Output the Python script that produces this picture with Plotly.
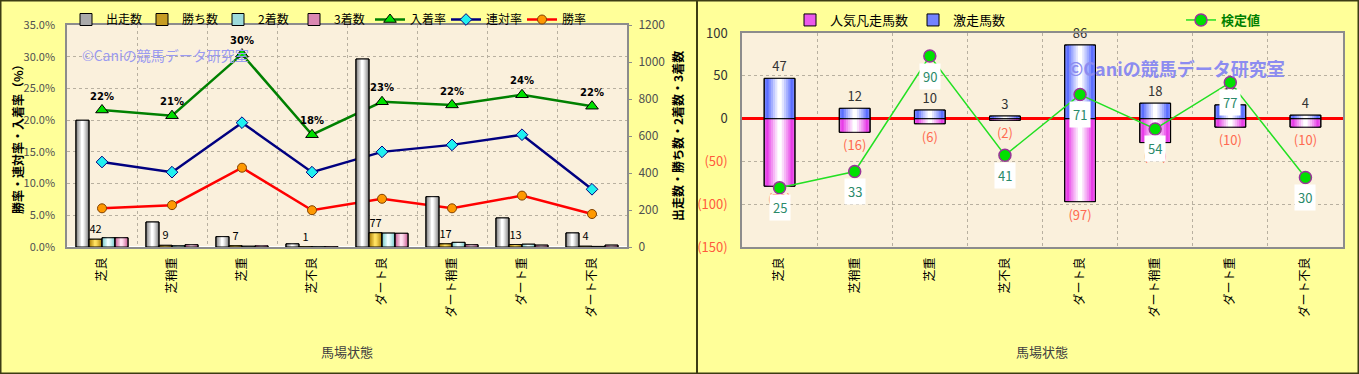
import plotly.graph_objects as go

# ---------------- data ----------------
categories = ["芝良", "芝稍重", "芝重", "芝不良", "ダート良", "ダート稍重", "ダート重", "ダート不良"]
runs = [685, 135, 56, 17, 1016, 272, 157, 76]          # 出走数
wins = [42, 9, 7, 1, 77, 17, 13, 4]                    # 勝ち数
seconds = [50, 7, 4, 1, 75, 25, 15, 3]                 # 2着数
thirds = [50, 12, 6, 1, 74, 12, 10, 10]                # 3着数
place_rate = [0.216, 0.207, 0.304, 0.177, 0.229, 0.224, 0.240, 0.222]   # 入着率
quinella_rate = [0.134, 0.118, 0.196, 0.118, 0.150, 0.161, 0.177, 0.091] # 連対率
win_rate = [0.061, 0.066, 0.125, 0.058, 0.076, 0.061, 0.081, 0.052]     # 勝率

gekiso = [47, 12, 10, 3, 86, 18, 16, 4]            # 激走馬数
bonso = [-79, -16, -6, -2, -97, -28, -10, -10]     # 人気凡走馬数
kentei = [25, 33, 90, 41, 71, 54, 77, 30]          # 検定値

right_ticks = [-150, -100, -50, 0, 50, 100]

W, H = 1359, 374
FONT = "Noto Sans CJK JP"


def px_x(p):
    return p / W


def px_y(p):
    return 1 - p / H


def mix(c1, c2, t):
    a = [int(c1[i:i + 2], 16) for i in (1, 3, 5)]
    b = [int(c2[i:i + 2], 16) for i in (1, 3, 5)]
    return "#" + "".join(f"{round(a[k] + (b[k] - a[k]) * t):02x}" for k in range(3))


fig = go.Figure()


def grad_bar(x, y, xa, ya, center, width, edge, middle, name, legend, text=None,
             textfont=None, layers=7):
    for i in range(layers):
        t = i / (layers - 1)
        c = mix(edge, middle, t ** 0.8)
        w = width * (layers - i) / layers
        fig.add_trace(go.Bar(
            x=x, y=y, xaxis=xa, yaxis=ya, width=w, offset=center - w / 2,
            marker=dict(color=c if i else mix(edge, middle, 0.35),
                        line=dict(width=1 if i == 0 else 0, color="black")),
            name=name, legend=legend, showlegend=(i == 0), hoverinfo="skip"))
    fig.add_trace(go.Bar(
        x=x, y=y, xaxis=xa, yaxis=ya, width=width, offset=center - width / 2,
        marker=dict(color="rgba(0,0,0,0)", line=dict(width=1, color="black")),
        showlegend=False, name=name, text=text, textposition="outside" if text else None,
        textfont=textfont, cliponaxis=False, hoverinfo="skip"))


# ---------- left chart ----------
bw = 0.186
grad_bar(categories, runs, "x", "y2", -1.5 * bw, bw, "#7c7c7c", "#ffffff", "出走数", "legend")
grad_bar(categories, wins, "x", "y2", -0.5 * bw, bw, "#a87800", "#ffe060", "勝ち数", "legend",
         text=[str(v) for v in wins], textfont=dict(size=11, color="black", family=FONT))
grad_bar(categories, seconds, "x", "y2", 0.5 * bw, bw, "#70c8c8", "#f0ffff", "2着数", "legend")
grad_bar(categories, thirds, "x", "y2", 1.5 * bw, bw, "#c85890", "#ffe0f0", "3着数", "legend")

fig.add_trace(go.Scatter(
    x=categories, y=place_rate, xaxis="x", yaxis="y", name="入着率", legend="legend",
    mode="lines+markers+text", line=dict(color="#008000", width=2.5),
    marker=dict(symbol="triangle-up", size=11, color="#00e000", line=dict(color="black", width=1)),
    texttemplate="%{y:.0%}", textposition="top center",
    textfont=dict(size=10, color="black", family="DejaVu Sans", weight="bold"), cliponaxis=False))
fig.add_trace(go.Scatter(
    x=categories, y=quinella_rate, xaxis="x", yaxis="y", name="連対率", legend="legend",
    mode="lines+markers", line=dict(color="#000080", width=2.5),
    marker=dict(symbol="diamond", size=9, color="#20f0f0", line=dict(color="#000080", width=1))))
fig.add_trace(go.Scatter(
    x=categories, y=win_rate, xaxis="x", yaxis="y", name="勝率", legend="legend",
    mode="lines+markers", line=dict(color="#ff0000", width=2.5),
    marker=dict(symbol="circle", size=9, color="#ff9900", line=dict(color="#804000", width=1))))

# ---------- right chart ----------
rbw = 0.41
grad_bar(categories, bonso, "x2", "y3", 0, rbw, "#e000e0", "#ffffff", "人気凡走馬数", "legend2",
         text=[f"({-v})" for v in bonso], textfont=dict(size=13, color="#ff6a50", family=FONT))
grad_bar(categories, gekiso, "x2", "y3", 0, rbw, "#2840ff", "#ffffff", "激走馬数", "legend2",
         text=[str(v) for v in gekiso], textfont=dict(size=13, color="#333333", family=FONT))

fig.add_trace(go.Scatter(
    x=categories, y=kentei, xaxis="x2", yaxis="y4", name="検定値", legend="legend3",
    mode="lines+markers", line=dict(color="#22e022", width=1.5),
    marker=dict(symbol="circle", size=12, color="#00e000", line=dict(color="#993399", width=1.5)),
    cliponaxis=False))

for c, v in zip(categories, kentei):
    fig.add_annotation(x=c, y=v, xref="x2", yref="y4", text=str(v), showarrow=False,
                       yshift=-20, bgcolor="white", borderpad=3,
                       font=dict(size=13, color="#2a8a6a", family=FONT))

# ---------- layout ----------
grid = dict(showgrid=True, gridcolor="#b8b0a0", griddash="dot", gridwidth=1)
axis_line = dict(showline=True, linecolor="#8c8c8c", linewidth=1.5, mirror=True)
tickfont_cat = dict(size=12, color="black", family=FONT)

fig.update_layout(
    width=W, height=H, margin=dict(l=0, r=0, t=0, b=0, autoexpand=False),
    paper_bgcolor="#ffff99", plot_bgcolor="#faf0dc",
    barmode="overlay", font=dict(family=FONT, size=12, color="#333333"),
    xaxis=dict(domain=[px_x(67), px_x(627)], anchor="y", type="category", automargin=False,
               tickson="boundaries", ticks="", tickangle=-90, tickfont=tickfont_cat,
               ticklabelstandoff=4, **grid, **axis_line),
    yaxis=dict(domain=[px_y(247), px_y(25)], anchor="x", range=[0, 0.35], dtick=0.05,
               automargin=False, tickformat=".1%", tickfont=dict(size=11, color="#505050"),
               ticks="", ticklabelstandoff=8, **grid, **axis_line),
    yaxis2=dict(overlaying="y", side="right", anchor="x", range=[0, 1200], dtick=200,
                automargin=False, showgrid=False, tickfont=dict(size=12, color="#505050"),
                ticks="outside", ticklen=4, tickcolor="#8c8c8c", ticklabelstandoff=4),
    xaxis2=dict(domain=[px_x(742), px_x(1343)], anchor="y3", type="category", automargin=False,
                tickson="boundaries", ticks="", tickangle=-90, tickfont=tickfont_cat,
                ticklabelstandoff=4, **grid, **axis_line),
    yaxis3=dict(domain=[px_y(247), px_y(33)], anchor="x2", range=[-150, 100],
                automargin=False, tickvals=right_ticks,
                ticktext=[f"<span style='color:#ff5a3c'>({-v})</span>" if v < 0 else str(v) for v in right_ticks],
                tickfont=dict(size=13, color="#333333"), ticks="", ticklabelstandoff=10,
                zeroline=True, zerolinecolor="#ff0000", zerolinewidth=3,
                **grid, **axis_line),
    yaxis4=dict(overlaying="y3", anchor="x2", side="right", range=[-4.3, 101.4], visible=False),
    legend=dict(orientation="h", x=px_x(66), y=px_y(5), xanchor="left", yanchor="top",
                bgcolor="rgba(0,0,0,0)", font=dict(size=12, color="black"),
                itemwidth=30, entrywidth=31),
    legend2=dict(orientation="h", x=px_x(790), y=px_y(5), xanchor="left", yanchor="top",
                 bgcolor="rgba(0,0,0,0)", font=dict(size=13, color="black"), itemwidth=30),
    legend3=dict(orientation="h", x=px_x(1181), y=px_y(5), xanchor="left", yanchor="top",
                 bgcolor="rgba(0,0,0,0)", font=dict(size=13, color="#008000", weight="bold"),
                 itemwidth=30),
    showlegend=True,
)

# axis titles as annotations
titles = [
    dict(x=px_x(347), y=px_y(351), text="馬場状態", angle=0, size=13, color="#404040", weight="normal"),
    dict(x=px_x(1042), y=px_y(351), text="馬場状態", angle=0, size=13, color="#404040", weight="normal"),
    dict(x=px_x(17), y=px_y(136), text="勝率・連対率・入着率（%）", angle=-90, size=12, color="black", weight="bold"),
    dict(x=px_x(677), y=px_y(136), text="出走数・勝ち数・2着数・3着数", angle=-90, size=12, color="black", weight="bold"),
]
for t in titles:
    fig.add_annotation(x=t["x"], y=t["y"], xref="paper", yref="paper", text=t["text"],
                       xanchor="center", yanchor="middle",
                       textangle=t["angle"], showarrow=False,
                       font=dict(size=t["size"], color=t["color"], family=FONT, weight=t["weight"]))

# watermarks
fig.add_annotation(x=px_x(80), y=px_y(43), xref="paper", yref="paper", xanchor="left",
                   text="©Caniの競馬データ研究室", showarrow=False,
                   font=dict(size=14, color="#9a9af0", family=FONT))
fig.add_annotation(x=px_x(1066), y=px_y(53), xref="paper", yref="paper", xanchor="left",
                   text="©Caniの競馬データ研究室", showarrow=False,
                   font=dict(size=18, color="#8c8cf0", family=FONT, weight="bold"))

# panel borders
fig.add_shape(type="rect", xref="paper", yref="paper", x0=0, y0=0, x1=1, y1=1,
              line=dict(color="#3c3c14", width=3), layer="above")
fig.add_shape(type="line", xref="paper", yref="paper", x0=px_x(697), x1=px_x(697), y0=0, y1=1,
              line=dict(color="#3c3c14", width=2), layer="above")

fig.write_html("out.html", config={"displayModeBar": False},
               post_script="document.body.style.margin='0';document.body.style.overflow='hidden';")
